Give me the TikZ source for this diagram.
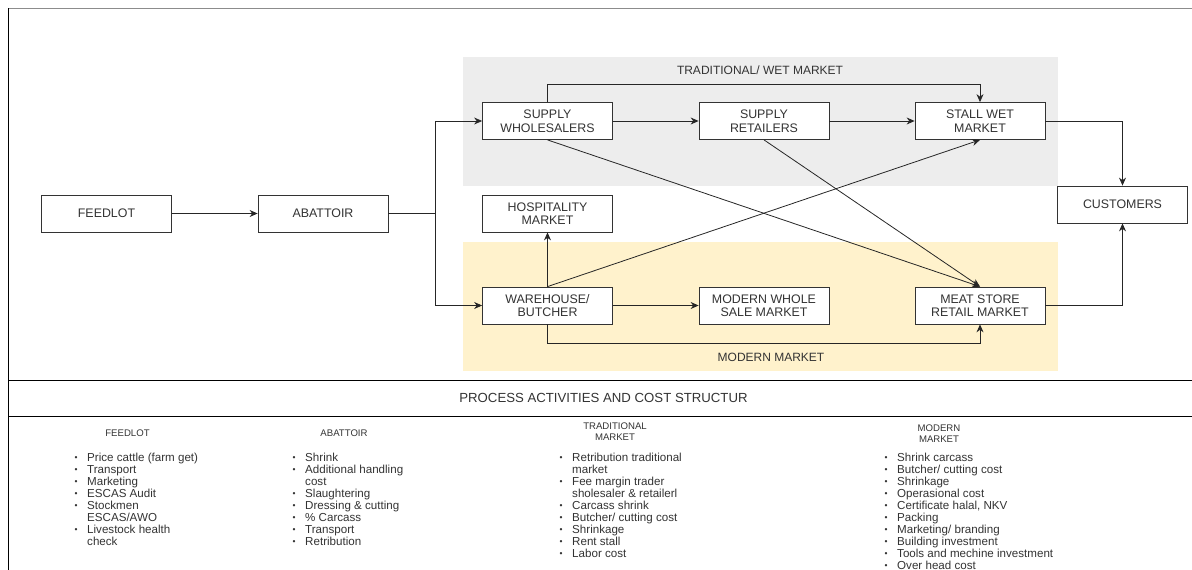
\documentclass[tikz,border=0pt]{standalone}
\usepackage{fontspec}
\setmainfont{Liberation Sans}
\usepackage{tikz}
\usetikzlibrary{arrows.meta}

\definecolor{wetgray}{HTML}{EDEDED}
\definecolor{modernyellow}{HTML}{FFF2CC}
\definecolor{labelgray}{HTML}{333333}
\definecolor{framegray}{HTML}{8C8C8C}

\newcommand{\bul}{\llap{\raisebox{1pt}{\fontsize{8.5}{8.5}\selectfont\textbullet}\hspace{9.5pt}}}

\begin{document}
\begin{tikzpicture}[x=1pt, y=-1pt,
        box/.style={draw=black!80, fill=white, line width=0.8pt, minimum width=130, minimum height=37,
            align=center, inner sep=2pt, text=labelgray, font=\fontsize{12.4}{13.5}\selectfont},
        flow/.style={draw=black!85, line width=0.8pt, -{Stealth[length=8pt, width=7pt]}},
        link/.style={draw=black!85, line width=0.8pt},
        region/.style={text=labelgray, font=\fontsize{12}{13}\selectfont},
        colhead/.style={text=labelgray, align=center, inner sep=0pt, font=\fontsize{9.6}{11}\selectfont},
        costlist/.style={anchor=base west, inner sep=0pt, text=labelgray, font=\fontsize{11.6}{12}\selectfont}]
        \useasboundingbox (0,0) rectangle (1192,570);

        \fill[wetgray] (463,57) rectangle (1058,186);
        \fill[modernyellow] (463,242) rectangle (1058,371);
        \node[region] (wetlabel) at (760,70) {TRADITIONAL/ WET MARKET};
        \node[region] (modernlabel) at (771,357) {MODERN MARKET};

        \draw[framegray, line width=0.8pt] (8,8) -- (1192,8);
        \draw[black, line width=0.9pt] (8,8) -- (8,570);
        \draw[black, line width=0.9pt] (8,380) -- (1192,380);
        \draw[black, line width=0.9pt] (8,416.5) -- (1192,416.5);

        \node[box] (feedlot) at (106.5, 213.5) {FEEDLOT};
        \node[box] (abattoir) at (323, 213.5) {ABATTOIR};
        \node[box] (wholesale) at (547.5, 121) {SUPPLY\\WHOLESALERS};
        \node[box] (hospitality) at (547.5, 213.5) {HOSPITALITY\\MARKET};
        \node[box] (warehouse) at (547.5, 305.5) {WAREHOUSE/\\BUTCHER};
        \node[box] (retailer) at (764, 121) {SUPPLY\\RETAILERS};
        \node[box] (modernwhole) at (764, 305.5) {MODERN WHOLE\\SALE MARKET};
        \node[box] (stall) at (980, 121) {STALL WET\\MARKET};
        \node[box] (meatstore) at (980, 305.5) {MEAT STORE\\RETAIL MARKET};
        \node[box] (customers) at (1122.5, 204.5) {CUSTOMERS};

        \coordinate (split) at (435, 213.5);
        \coordinate (topbend) at (547.5, 84);
        \coordinate (lowbend) at (547.5, 343);

        \draw[flow] (feedlot) -- (abattoir);
        \draw[link] (abattoir) -- (split);
        \draw[flow] (split) |- (wholesale);
        \draw[flow] (split) |- (warehouse);
        \draw[flow] (wholesale) -- (retailer);
        \draw[flow] (retailer) -- (stall);
        \draw[flow] (wholesale.north) -- (topbend) -| (stall.north);
        \draw[flow] (wholesale.south) -- (meatstore.north);
        \draw[flow] (retailer.south) -- (meatstore.north);
        \draw[flow] (warehouse.north) -- (stall.south);
        \draw[flow] (warehouse) -- (hospitality);
        \draw[flow] (warehouse) -- (modernwhole);
        \draw[flow] (warehouse.south) -- (lowbend) -| (meatstore.south);
        \draw[flow] (stall) -| (customers);
        \draw[flow] (meatstore) -| (customers);

        \node[text=labelgray, font=\fontsize{13.2}{14}\selectfont] (process) at (603.5, 398) {PROCESS ACTIVITIES AND COST STRUCTUR};

        \node[colhead] (feedlothead) at (127.5, 433) {FEEDLOT};
        \node[colhead] (abattoirhead) at (344, 433) {ABATTOIR};
        \node[colhead] (traditionalhead) at (615, 431.5) {TRADITIONAL\\MARKET};
        \node[colhead] (modernhead) at (939, 433.5) {MODERN\\MARKET};

        \node[costlist] (feedlotcost) at (87, 461) {\begin{tabular}[t]{@{}l@{}}
            \bul Price cattle (farm get)\\
            \bul Transport\\
            \bul Marketing\\
            \bul ESCAS Audit\\
            \bul Stockmen\\
            ESCAS/AWO\\
            \bul Livestock health\\
            check
        \end{tabular}};
        \node[costlist] (abattoircost) at (305, 461) {\begin{tabular}[t]{@{}l@{}}
            \bul Shrink\\
            \bul Additional handling\\
            cost\\
            \bul Slaughtering\\
            \bul Dressing \& cutting\\
            \bul \% Carcass\\
            \bul Transport\\
            \bul Retribution
        \end{tabular}};
        \node[costlist] (traditionalcost) at (572, 461) {\begin{tabular}[t]{@{}l@{}}
            \bul Retribution traditional\\
            market\\
            \bul Fee margin trader\\
            sholesaler \& retailerl\\
            \bul Carcass shrink\\
            \bul Butcher/ cutting cost\\
            \bul Shrinkage\\
            \bul Rent stall\\
            \bul Labor cost
        \end{tabular}};
        \node[costlist] (moderncost) at (897, 461) {\begin{tabular}[t]{@{}l@{}}
            \bul Shrink carcass\\
            \bul Butcher/ cutting cost\\
            \bul Shrinkage\\
            \bul Operasional cost\\
            \bul Certificate halal, NKV\\
            \bul Packing\\
            \bul Marketing/ branding\\
            \bul Building investment\\
            \bul Tools and mechine investment\\
            \bul Over head cost
        \end{tabular}};
    \end{tikzpicture}
\end{document}
